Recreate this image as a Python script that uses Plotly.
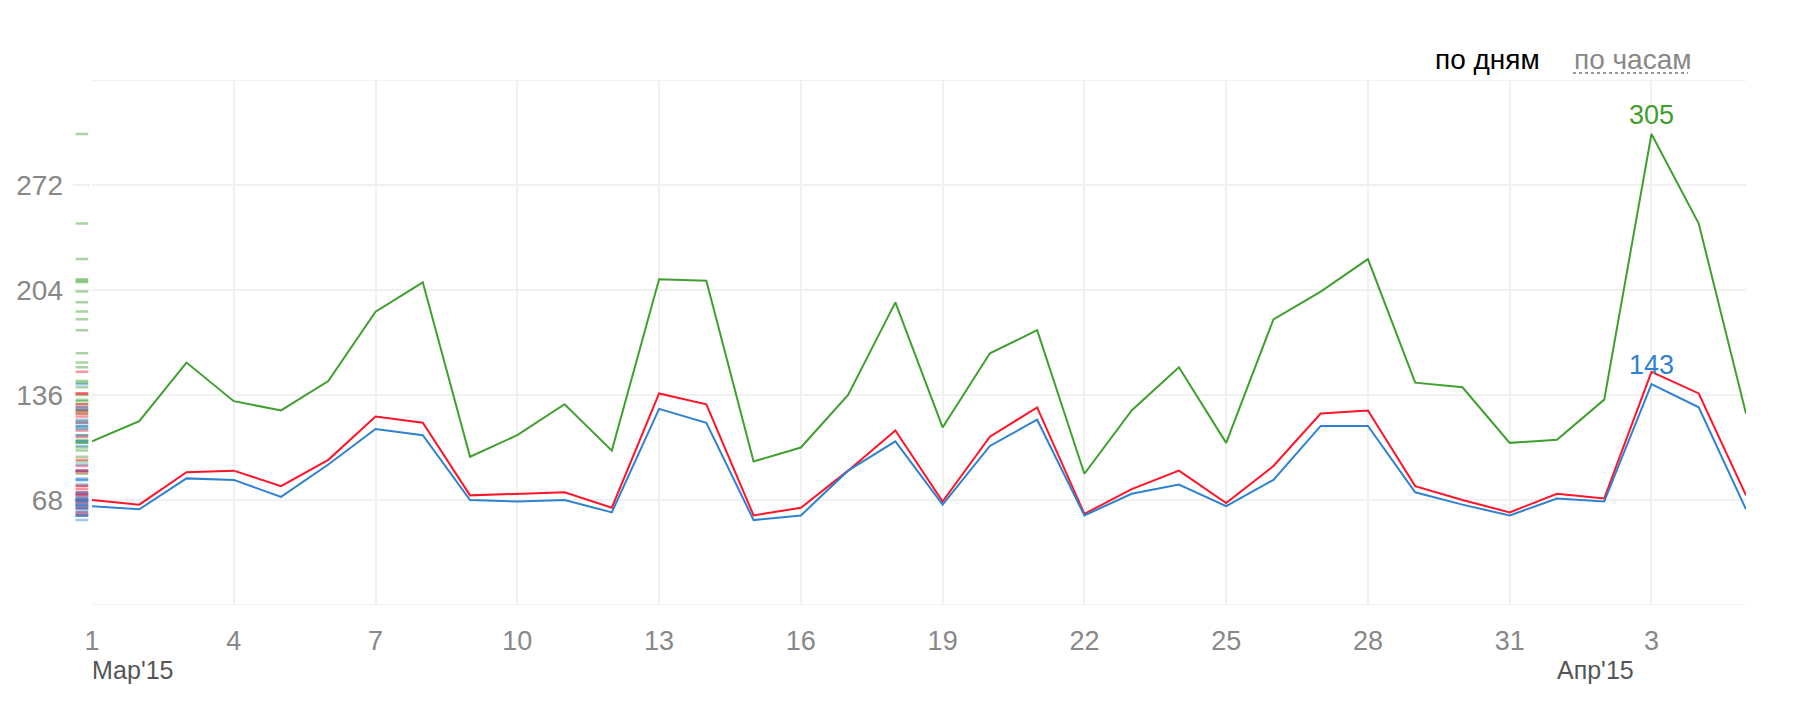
import plotly.graph_objects as go
import pandas as pd

dates = pd.date_range("2015-03-01", "2015-04-05", freq="D").strftime("%Y-%m-%d").tolist()

green_vals = [106, 119, 157, 132, 126, 145, 190, 209, 96, 110,
              130, 100, 211, 210, 93, 102, 136, 196, 115, 163,
              178, 85, 126, 154, 105, 185, 203, 224, 144, 141,
              105, 107, 133, 305, 247, 124]
red_vals = [68, 65, 86, 87, 77, 94, 122, 118, 71, 72,
            73, 63, 137, 130, 58, 63, 87, 113, 67, 109,
            128, 59, 75, 87, 66, 90, 124, 126, 77, 68,
            60, 72, 69, 151, 137, 71]
blue_vals = [64, 62, 82, 81, 70, 91, 114, 110, 68, 67,
             68, 60, 127, 118, 55, 58, 87, 106, 65, 103,
             120, 58, 72, 78, 64, 81, 116, 116, 73, 65,
             58, 69, 67, 143, 128, 62]

y_range = [0, 340]
y_tick_vals = [68, 136, 204, 272]
y_tick_text = ["68", "136", "204", "272"]
x_tick_dates = dates[0::3]
x_tick_text = [str(pd.Timestamp(d).day) for d in x_tick_dates]
month_labels = ["Мар'15", "Апр'15"]
month_starts = ["2015-03-01", "2015-04-01"]
toggle_labels = ["по дням", "по часам"]

GREEN = "#3f9f2f"
RED = "#ff1428"
BLUE = "#2f82d2"
GRID = "#f1f1f1"
FONT = "Arial, Liberation Sans, sans-serif"

series = [("green", green_vals, GREEN, "rgba(63,159,47,0.45)"),
          ("red", red_vals, RED, "rgba(255,20,40,0.45)"),
          ("blue", blue_vals, BLUE, "rgba(47,130,210,0.45)")]

fig = go.Figure()
for name, vals, col, rugcol in series:
    fig.add_trace(go.Scatter(x=dates, y=vals, mode="lines", name=name,
                             line=dict(color=col, width=2), hoverinfo="skip",
                             xaxis="x", yaxis="y"))
for name, vals, col, rugcol in series:
    fig.add_trace(go.Scatter(x=[0] * len(vals), y=vals, mode="markers",
                             marker=dict(symbol="line-ew", size=9,
                                         line=dict(color=rugcol, width=2.5)),
                             hoverinfo="skip", xaxis="x2", yaxis="y"))

# peak labels
annotations = []
for vals, col in [(green_vals, GREEN), (blue_vals, BLUE)]:
    i = vals.index(max(vals))
    annotations.append(dict(x=dates[i], y=vals[i], xref="x", yref="y",
                            text=str(vals[i]), showarrow=False, yanchor="bottom",
                            yshift=2, font=dict(family=FONT, size=27, color=col)))

for lab, d in zip(month_labels, month_starts):
    annotations.append(dict(x=d, y=-0.124, xref="x", yref="paper", text=lab,
                            showarrow=False, xanchor="left", yanchor="middle",
                            xshift=-2,
                            font=dict(family=FONT, size=25, color="#555555")))

W, H = 1796, 714
ML, MR, MT, MB = 70, 50, 80, 109
PW = W - ML - MR
PH = H - MT - MB

def px(x):
    return (x - ML) / PW

def py(y):
    return (H - MB - y) / PH

annotations.append(dict(x=px(1433), y=py(60), xref="paper", yref="paper",
                        text=toggle_labels[0], showarrow=False, xanchor="left",
                        yanchor="middle", font=dict(family=FONT, size=28, color="#000000")))
annotations.append(dict(x=px(1572), y=py(60), xref="paper", yref="paper",
                        text=toggle_labels[1], showarrow=False, xanchor="left",
                        yanchor="middle", font=dict(family=FONT, size=28, color="#888888")))

x_dom0 = px(92)
shapes = [dict(type="line", xref="paper", yref="paper", x0=px(1573), x1=px(1688),
               y0=py(73), y1=py(73), line=dict(color="#777777", width=1.5, dash="dot"))]
for yv in y_range:
    shapes.append(dict(type="line", xref="paper", yref="y", x0=x_dom0, x1=1,
                       y0=yv, y1=yv, layer="below",
                       line=dict(color=GRID, width=2)))

fig.update_layout(
    width=W, height=H,
    margin=dict(l=ML, r=MR, t=MT, b=MB),
    paper_bgcolor="white", plot_bgcolor="white",
    showlegend=False,
    font=dict(family=FONT),
    xaxis=dict(domain=[x_dom0, 1], type="date",
               range=[dates[0], dates[-1]],
               tickvals=x_tick_dates, ticktext=x_tick_text,
               showgrid=True, gridcolor=GRID, gridwidth=2,
               zeroline=False, showline=False, ticks="",
               tickfont=dict(family=FONT, size=27, color="#888888"),
               ticklabelstandoff=17),
    xaxis2=dict(domain=[0.002, x_dom0 * 0.93], range=[-1, 1], visible=False,
                anchor="y"),
    yaxis=dict(range=y_range, tickvals=y_tick_vals, ticktext=y_tick_text,
               showgrid=True, gridcolor=GRID, gridwidth=2,
               zeroline=False, showline=False, ticks="",
               tickfont=dict(family=FONT, size=28, color="#888888"),
               ticklabelstandoff=28, anchor="x"),
    annotations=annotations,
    shapes=shapes,
)

fig.write_html("out.html")
